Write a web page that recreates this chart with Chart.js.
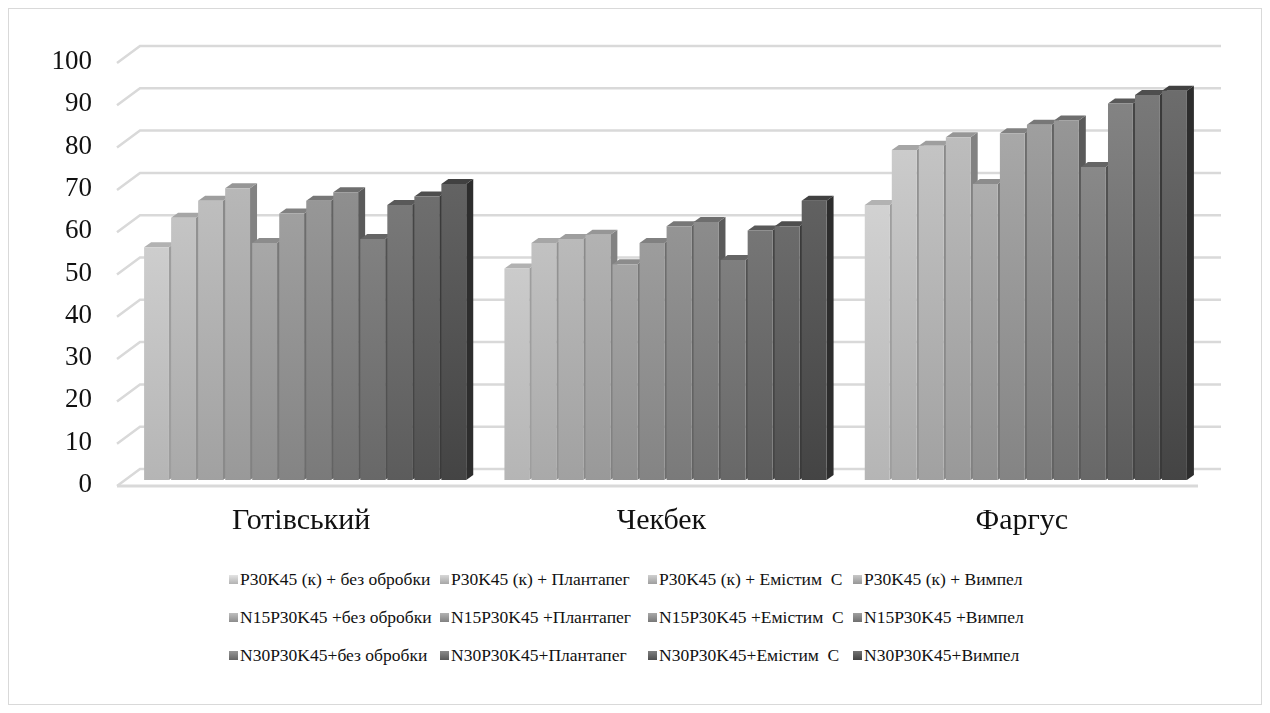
<!DOCTYPE html>
<html>
<head>
<meta charset="utf-8">
<script src="https://cdn.jsdelivr.net/npm/chart.js@4"></script>
<style>
    body { margin: 0; background: #fff; font-family: 'Liberation Serif'; }
    #wrap { position: relative; width: 1270px; height: 713px; }
    #frame { position: absolute; left: 8px; top: 8px; width: 1252px; height: 695px; border: 1px solid #d9d9d9; }
    #chartBox { position: absolute; left: 0; top: 0; width: 1270px; height: 560px; }
    #legend {
        position: absolute; left: 229px; top: 566px;
        display: grid; grid-template-columns: 211px 208px 205px 200px;
        row-gap: 12px;
        font-family: 'Liberation Serif'; font-size: 17.5px; color: #111;
    }
    .item { white-space: pre; height: 26px; line-height: 26px; display: flex; align-items: center; }
    .box { width: 9px; height: 9px; margin-right: 2px; display: inline-block; }
</style>
</head>
<body>
<div id="wrap">
    <div id="frame"></div>
    <div id="chartBox"><canvas id="yieldChart"></canvas></div>
    <div id="legend"></div>
</div>
<script>
const categories = ['Готівський', 'Чекбек', 'Фаргус'];
const seriesLabels = [
    'P30K45 (к) + без обробки', 'P30K45 (к) + Плантапег', 'P30K45 (к) + Емістим  С', 'P30K45 (к) + Вимпел',
    'N15P30K45 +без обробки', 'N15P30K45 +Плантапег', 'N15P30K45 +Емістим  С', 'N15P30K45 +Вимпел',
    'N30P30K45+без обробки', 'N30P30K45+Плантапег', 'N30P30K45+Емістим  С', 'N30P30K45+Вимпел'
];
// значення по сортах (порядок як у seriesLabels)
const gotivskyi = [55, 62, 66, 69, 56, 63, 66, 68, 57, 65, 67, 70];
const chekbek   = [50, 56, 57, 58, 51, 56, 60, 61, 52, 59, 60, 66];
const fargus    = [65, 78, 79, 81, 70, 82, 84, 85, 74, 89, 91, 92];
const seriesColors = ['#cbcbcb', '#bfbfbf', '#b7b7b7', '#afafaf', '#a5a5a5', '#9a9a9a',
                      '#909090', '#878787', '#7e7e7e', '#727272', '#676767', '#5a5a5a'];

const DX = 7, DY = 5;

function shade(hex, amt) {
    const n = parseInt(hex.slice(1), 16);
    const c = [(n >> 16) & 255, (n >> 8) & 255, n & 255].map(v => Math.max(0, Math.min(255, v + amt)));
    return `rgb(${c[0]},${c[1]},${c[2]})`;
}

function barGradient(i) {
    return (ctx) => {
        const area = ctx.chart.chartArea;
        if (!area) return seriesColors[i];
        const g = ctx.chart.ctx.createLinearGradient(0, area.top, 0, area.bottom);
        g.addColorStop(0, shade(seriesColors[i], 22));
        g.addColorStop(1, shade(seriesColors[i], -22));
        return g;
    };
}

// об'ємний вигляд: стіни, підлога, верх і бік стовпчиків
const depth3d = {
    id: 'depth3d',
    beforeDatasetsDraw(chart) {
        const { ctx, chartArea: a, scales: { y } } = chart;
        ctx.save();
        ctx.strokeStyle = '#d9d9d9';
        ctx.lineWidth = 2.5;
        y.ticks.forEach(t => {
            const py = y.getPixelForValue(t.value);
            ctx.beginPath();
            ctx.moveTo(a.left - 8, py + 6);
            ctx.lineTo(a.left + 15, py - 11);
            ctx.lineTo(a.right + 15, py - 11);
            ctx.stroke();
        });
        ctx.lineWidth = 3;
        ctx.beginPath();
        ctx.moveTo(a.left - 8, a.bottom + 6);
        ctx.lineTo(a.right - 8, a.bottom + 6);
        ctx.stroke();

        chart.data.datasets.forEach((ds, i) => {
            chart.getDatasetMeta(i).data.forEach(bar => {
                const { x, y: top, width, base } = bar.getProps(['x', 'y', 'width', 'base'], true);
                const l = x - width / 2, r = x + width / 2;
                ctx.fillStyle = shade(seriesColors[i], -45);
                ctx.beginPath();
                ctx.moveTo(r, top); ctx.lineTo(r + DX, top - DY);
                ctx.lineTo(r + DX, base - DY); ctx.lineTo(r, base);
                ctx.closePath(); ctx.fill();
                ctx.fillStyle = shade(seriesColors[i], -25);
                ctx.beginPath();
                ctx.moveTo(l, top); ctx.lineTo(l + DX, top - DY);
                ctx.lineTo(r + DX, top - DY); ctx.lineTo(r, top);
                ctx.closePath(); ctx.fill();
            });
        });
        ctx.restore();
    }
};

const datasets = seriesLabels.map((label, i) => ({
    label,
    data: [gotivskyi[i], chekbek[i], fargus[i]],
    backgroundColor: barGradient(i),
    borderWidth: 0,
    categoryPercentage: 0.9,
    barPercentage: 0.92
}));

Chart.defaults.font.family = 'Liberation Serif';

new Chart(document.getElementById('yieldChart'), {
    type: 'bar',
    data: { labels: categories, datasets },
    options: {
        responsive: true,
        maintainAspectRatio: false,
        animation: false,
        layout: { padding: { top: 57, right: 64, left: 0, bottom: 0 } },
        plugins: { legend: { display: false }, tooltip: { enabled: false } },
        scales: {
            x: {
                grid: { display: false, drawTicks: false },
                border: { display: false },
                ticks: { color: '#111', font: { family: 'Liberation Serif', size: 30 }, padding: 23, labelOffset: -4 },
                afterFit: s => { s.height = 80; }
            },
            y: {
                min: 0, max: 100,
                grid: { display: false, drawTicks: false },
                border: { display: false },
                ticks: { stepSize: 10, color: '#111', font: { family: 'Liberation Serif', size: 27 }, padding: 33, labelOffset: 5 },
                afterFit: s => { s.width = 125; }
            }
        }
    },
    plugins: [depth3d]
});

// легенда у 4 колонки
const legendEl = document.getElementById('legend');
seriesLabels.forEach((label, i) => {
    const item = document.createElement('div');
    item.className = 'item';
    item.innerHTML = `<span class="box" style="background:linear-gradient(${shade(seriesColors[i], 25)}, ${shade(seriesColors[i], -25)})"></span>${label}`;
    legendEl.appendChild(item);
});
</script>
</body>
</html>
